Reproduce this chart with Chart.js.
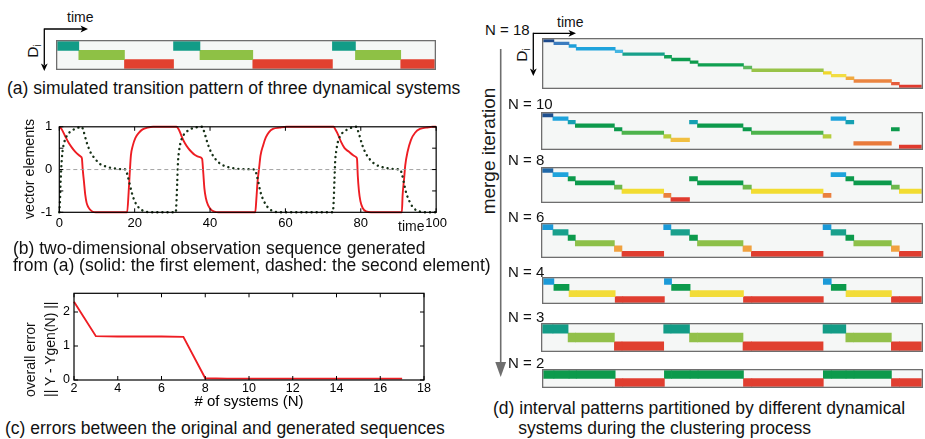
<!DOCTYPE html>
<html><head><meta charset="utf-8">
<script src="https://cdn.jsdelivr.net/npm/chart.js@4.4.1/dist/chart.umd.min.js"></script>
<style>
html,body{margin:0;padding:0;background:#fff;}
#page{position:relative;width:925px;height:439px;overflow:hidden;font-family:"Liberation Sans",Arial,Helvetica,sans-serif;color:#111;}
canvas{position:absolute;}
.t{position:absolute;white-space:nowrap;}
.cap{font-size:17.5px;line-height:20px;}
.nl{font-size:15px;line-height:18px;}
.sm{font-size:14px;line-height:16px;}
.rot{transform:translate(-50%,-50%) rotate(-90deg);}
.rot0{transform-origin:0 0;transform:rotate(-90deg);}
.sub{font-size:10px;position:relative;top:3px;}
svg{position:absolute;left:0;top:0;}
</style></head><body><div id="page">

<svg width="925" height="439">
 <g stroke="#000" stroke-width="1.3" fill="none">
  <line x1="44.3" y1="29" x2="83" y2="29"/>
  <line x1="44.3" y1="28.4" x2="44.3" y2="65"/>
  <line x1="533.3" y1="33.3" x2="571" y2="33.3"/>
  <line x1="533.3" y1="32.7" x2="533.3" y2="70"/>
 </g>
 <g fill="#000">
  <polygon points="88,29 80.5,25.6 82.5,29 80.5,32.4"/>
  <polygon points="44.3,71 40.9,63.5 44.3,65.5 47.7,63.5"/>
  <polygon points="576,33.3 568.5,29.9 570.5,33.3 568.5,36.7"/>
  <polygon points="533.3,76 529.9,68.5 533.3,70.5 536.7,68.5"/>
 </g>
 <line x1="500.7" y1="49" x2="500.7" y2="366" stroke="#6e6e6e" stroke-width="1.6"/>
 <polygon points="495.3,362 506.1,362 500.7,377" fill="#6e6e6e"/>
</svg>

<canvas id="ca" width="380" height="30" style="left:56px;top:40px;width:380px;height:30px"></canvas>
<canvas id="cb" width="434" height="125" style="left:16px;top:112px;width:434px;height:125px"></canvas>
<canvas id="cc" width="420" height="131" style="left:16px;top:280px;width:420px;height:131px"></canvas>
<canvas id="d18" width="381" height="51" style="left:542px;top:38px;width:381px;height:51px"></canvas>
<canvas id="d10" width="382" height="38" style="left:541px;top:112px;width:382px;height:38px"></canvas>
<canvas id="d8" width="382" height="36" style="left:541px;top:167px;width:382px;height:36px"></canvas>
<canvas id="d6" width="382" height="35" style="left:541px;top:223px;width:382px;height:35px"></canvas>
<canvas id="d4" width="381" height="27" style="left:542px;top:277px;width:381px;height:27px"></canvas>
<canvas id="d3" width="382" height="29" style="left:541px;top:323px;width:382px;height:29px"></canvas>
<canvas id="d2" width="381" height="19" style="left:542px;top:369px;width:381px;height:19px"></canvas>

<div class="t sm" style="left:67px;top:8.7px">time</div>
<div class="t rot" style="left:33px;top:51px;font-size:15.5px;line-height:17px">D<span class="sub">i</span></div>
<div class="t cap" style="left:7px;top:78px">(a) simulated transition pattern of three dynamical systems</div>

<div class="t rot" style="left:29px;top:169px;font-size:14.2px;line-height:16px">vector elements</div>
<div class="t sm" style="left:398px;top:218px">time</div>
<div class="t cap" style="left:13px;top:238.3px">(b) two-dimensional observation sequence generated</div>
<div class="t cap" style="left:13px;top:255px">from (a) (solid: the first element, dashed: the second element)</div>

<div class="t rot0" style="left:20px;top:396.7px;font-size:14px;line-height:20px">overall error</div>
<div class="t rot0" style="left:40px;top:396.7px;font-size:14px;line-height:20px">|| Y - Ygen(N) ||</div>
<div class="t cap" style="left:5px;top:418.3px">(c) errors between the original and generated sequences</div>

<div class="t sm" style="left:557px;top:13.7px">time</div>
<div class="t rot" style="left:522px;top:54.5px;font-size:15.5px;line-height:17px">D<span class="sub">i</span></div>
<div class="t rot" style="left:489px;top:151px;font-size:19px;line-height:22px;color:#1a1a1a">merge iteration</div>
<div class="t nl" style="left:485px;top:21px">N = 18</div>
<div class="t nl" style="left:508px;top:95px">N = 10</div>
<div class="t nl" style="left:508px;top:151px">N = 8</div>
<div class="t nl" style="left:508px;top:207.7px">N = 6</div>
<div class="t nl" style="left:508px;top:262.5px">N = 4</div>
<div class="t nl" style="left:508px;top:307.7px">N = 3</div>
<div class="t nl" style="left:508px;top:354.3px">N = 2</div>
<div class="t cap" style="left:493px;top:398.3px">(d) interval patterns partitioned by different dynamical</div>
<div class="t cap" style="left:518.3px;top:418.3px">systems during the clustering process</div>
</div>

<script>
// ---------- (a) simulated transition pattern ----------
const simSystem = [0, 1, 2, 0, 1, 2, 0, 1, 2];
const simStart  = [0, 5.7, 17.8, 30.8, 37.8, 51.8, 72.9, 79.0, 91.0];
const simEnd    = [5.7, 17.8, 30.8, 37.8, 51.8, 72.9, 79.0, 91.0, 100];
const simColors = ['#129c87', '#8ec145', '#e2412f'];

// ---------- (b) observation sequence ----------
const solidT = [0,0.6,1.5,2.4,3.3,4.2,5.0,5.75,6.0,6.2,6.55,6.9,7.25,7.7,8.3,9.2,10.4,18.0,18.4,18.7,19.0,19.5,20.2,21.1,22.1,23.4,24.9,31.1,31.8,32.4,33.3,34.2,35.1,36.0,37.3,37.9,38.2,38.5,38.9,39.5,40.4,41.7,43.0,52.0,52.3,52.6,53.0,53.4,54.1,54.8,55.6,56.7,58.5,60.3,72.8,73.3,73.9,74.8,75.7,76.8,77.9,78.8,79.0,79.2,79.5,79.9,80.5,81.4,82.7,90.9,91.1,91.5,91.8,92.4,93.3,94.4,95.7,97.3,99.1,100];
const solidV = [1,0.95,0.79,0.64,0.52,0.42,0.35,0.30,0.26,0.02,-0.29,-0.60,-0.78,-0.88,-0.95,-0.995,-1,-1,-0.53,-0.07,0.33,0.56,0.74,0.86,0.94,0.98,1,1,0.92,0.79,0.62,0.50,0.41,0.34,0.29,0.25,-0.07,-0.44,-0.67,-0.84,-0.95,-0.995,-1,-1,-0.68,-0.29,0.02,0.33,0.57,0.75,0.87,0.95,0.98,1,1,0.93,0.83,0.64,0.50,0.42,0.34,0.29,0.25,-0.14,-0.49,-0.74,-0.90,-0.98,-1,-1,-0.60,-0.21,0.10,0.41,0.69,0.86,0.95,0.98,1,1];
const dashT = [0,0.18,0.35,0.62,0.88,1.32,1.94,2.82,3.88,5.0,5.9,6.37,6.8,7.4,8.3,9.5,10.8,12.4,14.3,17.0,17.7,18.0,18.55,19.2,20.0,21.2,22.7,24.5,30.9,31.1,31.3,31.5,31.8,32.2,32.8,33.7,34.7,35.9,37.9,38.3,38.8,39.4,40.3,41.4,42.8,44.3,46.3,49.0,51.9,52.3,52.8,53.4,54.3,55.5,57.0,58.7,72.6,72.8,73.0,73.2,73.5,73.9,74.5,75.4,76.5,77.6,78.8,79.2,79.7,80.3,81.2,82.3,83.7,85.2,87.2,89.8,90.5,90.9,91.4,92.0,92.9,94.0,95.6,97.3,100];
const dashV = [-1,-0.75,-0.29,0.18,0.44,0.64,0.78,0.88,0.94,0.98,1,0.92,0.78,0.60,0.40,0.25,0.13,0.07,0.03,0.007,0,-0.10,-0.29,-0.53,-0.74,-0.90,-0.98,-1,-1,-0.75,-0.29,0.18,0.44,0.64,0.78,0.88,0.94,0.98,1,0.92,0.78,0.60,0.40,0.25,0.13,0.07,0.03,0.01,0,-0.10,-0.29,-0.53,-0.74,-0.90,-0.98,-1,-1,-0.75,-0.29,0.18,0.44,0.64,0.78,0.88,0.94,0.98,1,0.92,0.78,0.60,0.40,0.25,0.13,0.07,0.03,0.007,0,-0.10,-0.29,-0.53,-0.74,-0.90,-0.98,-1,-1];
const zeroT = [0, 100];
const zeroV = [0, 0];

// ---------- (c) errors ----------
const nSystems = [2,3,4,5,6,7,8,9,10,11,12,13,14,15,16,17];
const overallError = [2.30,1.29,1.28,1.28,1.28,1.27,0.05,0.04,0.04,0.04,0.04,0.04,0.04,0.04,0.04,0.04];

// ---------- (d) interval patterns ----------
const segStart = [0,2.8,6.8,8.7,19.0,21.0,32.0,33.9,38.8,40.9,52.9,55.1,74.0,76.1,80.0,82.1,92.0,94.1];
const segEnd   = [2.8,6.8,8.7,19.0,21.0,32.0,33.9,38.8,40.9,52.9,55.1,74.0,76.1,80.0,82.1,92.0,94.1,100];
const rowsN18 = [0,1,2,3,4,5,6,7,8,9,10,11,12,13,14,15,16,17];
const rowsN10 = [0,1,2,3,4,5,6,7,2,3,4,5,6,1,2,8,4,9];
const rowsN8  = [0,1,2,3,4,5,6,7,2,3,4,5,6,1,2,3,4,5];
const rowsN6  = [0,1,2,3,4,5,0,1,2,3,4,5,0,1,2,3,4,5];
const rowsN4  = [0,1,2,2,3,3,0,1,2,2,3,3,0,1,2,2,3,3];
const rowsN3  = [0,0,1,1,2,2,0,0,1,1,2,2,0,0,1,1,2,2];
const rowsN2  = [0,0,0,0,1,1,0,0,0,0,1,1,0,0,0,0,1,1];
const colorsN18 = ['#1d4a8c','#3b7cbf','#1c9fd9','#1ea3dc','#45b6e2','#17a08a','#12a057','#0d9c4f','#0b9a4a','#10a051','#5fb85e','#98c348','#f0d72b','#f2dd42','#f0a93f','#ea8540','#e65b3b','#e03a2e'];
const colorsN10 = ['#1d4f8e','#1ea3dc','#15a0b2','#0c9a4c','#0c9a4c','#4db34c','#b5cd3c','#f1bf41','#e97a3a','#e03a2e'];
const colorsN8  = ['#1f68a8','#1ea3dc','#0c9a4c','#0c9a4c','#6db84b','#f2dc31','#ea803e','#e03a2e'];
const colorsN6  = ['#1b9ad8','#19a08c','#0c9a4c','#8dc049','#f0a13f','#e03e30'];
const colorsN4  = ['#1b9ad8','#0c9a4c','#f2dc38','#e03e30'];
const colorsN3  = ['#139c86','#92c04a','#e0402f'];
const colorsN2  = ['#0c9a4c','#e03e30'];

Chart.defaults.font.family = "'Liberation Sans', Arial, Helvetica, sans-serif";
Chart.defaults.color = '#000';

const boxFrame = {
  id: 'boxFrame',
  beforeDatasetsDraw(chart) {
    const {ctx, chartArea: a} = chart;
    ctx.save(); ctx.fillStyle = '#f5f7f6';
    ctx.fillRect(a.left, a.top, a.width, a.height); ctx.restore();
  },
  afterDatasetsDraw(chart) {
    const {ctx, width, height} = chart;
    ctx.save(); ctx.strokeStyle = '#6e6e6e'; ctx.lineWidth = 1.3;
    ctx.strokeRect(0.65, 0.65, width - 1.3, height - 1.3); ctx.restore();
  }
};

const frameTicks = {
  id: 'frameTicks',
  afterDatasetsDraw(chart, args, opts) {
    const {ctx, chartArea: a, scales: {x, y}} = chart;
    const L = opts.len || 4;
    ctx.save(); ctx.strokeStyle = '#000'; ctx.lineWidth = 1; ctx.beginPath();
    x.ticks.forEach(t => { const p = x.getPixelForValue(t.value);
      ctx.moveTo(p, a.bottom); ctx.lineTo(p, a.bottom - L);
      ctx.moveTo(p, a.top); ctx.lineTo(p, a.top + L); });
    y.ticks.forEach(t => { const p = y.getPixelForValue(t.value);
      ctx.moveTo(a.left, p); ctx.lineTo(a.left + L, p);
      ctx.moveTo(a.right, p); ctx.lineTo(a.right - L, p); });
    ctx.stroke();
    ctx.lineWidth = 1.2; ctx.strokeRect(a.left, a.top, a.width, a.height);
    ctx.restore();
  }
};

function intervalChart(id, starts, ends, rows, colors) {
  const labels = colors.map((c, i) => String(i));
  const datasets = starts.map((s, k) => {
    const data = labels.map(() => null);
    data[rows[k]] = [s, ends[k]];
    return {data, backgroundColor: colors[rows[k]], borderWidth: 0,
            barPercentage: 1, categoryPercentage: 1, grouped: false};
  });
  new Chart(document.getElementById(id), {
    type: 'bar',
    data: {labels, datasets},
    options: {
      indexAxis: 'y', responsive: false, animation: false, events: [],
      layout: {padding: 1.3},
      plugins: {legend: {display: false}, tooltip: {enabled: false}},
      scales: {
        x: {type: 'linear', min: 0, max: 100, display: false},
        y: {display: false}
      }
    },
    plugins: [boxFrame]
  });
}

intervalChart('ca', simStart, simEnd, simSystem, simColors);
intervalChart('d18', segStart, segEnd, rowsN18, colorsN18);
intervalChart('d10', segStart, segEnd, rowsN10, colorsN10);
intervalChart('d8', segStart, segEnd, rowsN8, colorsN8);
intervalChart('d6', segStart, segEnd, rowsN6, colorsN6);
intervalChart('d4', segStart, segEnd, rowsN4, colorsN4);
intervalChart('d3', segStart, segEnd, rowsN3, colorsN3);
intervalChart('d2', segStart, segEnd, rowsN2, colorsN2);

const zip = (xs, ys) => xs.map((v, i) => ({x: v, y: ys[i]}));
const intLabel = v => Number.isInteger(v) ? String(v) : '';

new Chart(document.getElementById('cb'), {
  type: 'line',
  data: {datasets: [
    {data: zip(zeroT, zeroV), borderColor: '#9a9a9a', borderWidth: 0.9, borderDash: [4, 3], pointRadius: 0},
    {data: zip(dashT, dashV), borderColor: '#173117', borderWidth: 2.4, borderDash: [0.1, 5], borderCapStyle: 'round',
     pointRadius: 0, cubicInterpolationMode: 'monotone', clip: 3},
    {data: zip(solidT, solidV), borderColor: '#ee1d23', borderWidth: 1.9, pointRadius: 0,
     cubicInterpolationMode: 'monotone', clip: 3}
  ]},
  options: {
    responsive: false, animation: false, events: [],
    layout: {padding: {top: 14.7, right: 13.3, left: 0, bottom: 0}},
    plugins: {legend: {display: false}, tooltip: {enabled: false}, frameTicks: {len: 4}},
    scales: {
      x: {type: 'linear', min: 0, max: 100,
          ticks: {stepSize: 20, padding: 3, font: {size: 13}, color: '#000', maxRotation: 0, autoSkip: false},
          grid: {display: false, drawTicks: false}, border: {display: false},
          afterFit(s) { s.height = 24.7; }},
      y: {type: 'linear', min: -1, max: 1,
          ticks: {stepSize: 0.5, padding: 7, font: {size: 13}, color: '#000', callback: intLabel},
          grid: {display: false, drawTicks: false}, border: {display: false},
          afterFit(s) { s.width = 43.3; }}
    }
  },
  plugins: [frameTicks]
});

new Chart(document.getElementById('cc'), {
  type: 'line',
  data: {datasets: [
    {data: zip(nSystems, overallError), borderColor: '#ee1d23', borderWidth: 1.9, pointRadius: 0, tension: 0, clip: 3}
  ]},
  options: {
    responsive: false, animation: false, events: [],
    layout: {padding: {top: 13.3, right: 12, left: 0, bottom: 0}},
    plugins: {legend: {display: false}, tooltip: {enabled: false}, frameTicks: {len: 4}},
    scales: {
      x: {type: 'linear', min: 2, max: 18,
          ticks: {stepSize: 2, padding: 1, font: {size: 12.5}, color: '#000', maxRotation: 0, autoSkip: false},
          grid: {display: false, drawTicks: false}, border: {display: false},
          title: {display: true, text: '# of systems (N)', font: {size: 15}, color: '#000', padding: {top: 0, bottom: 0}},
          afterFit(s) { s.height = 31; }},
      y: {type: 'linear', min: 0, max: 2.55,
          ticks: {stepSize: 0.5, includeBounds: false, padding: 4, font: {size: 12.5}, color: '#000', callback: intLabel},
          grid: {display: false, drawTicks: false}, border: {display: false},
          afterFit(s) { s.width = 58; }}
    }
  },
  plugins: [frameTicks]
});
</script>
</body></html>
